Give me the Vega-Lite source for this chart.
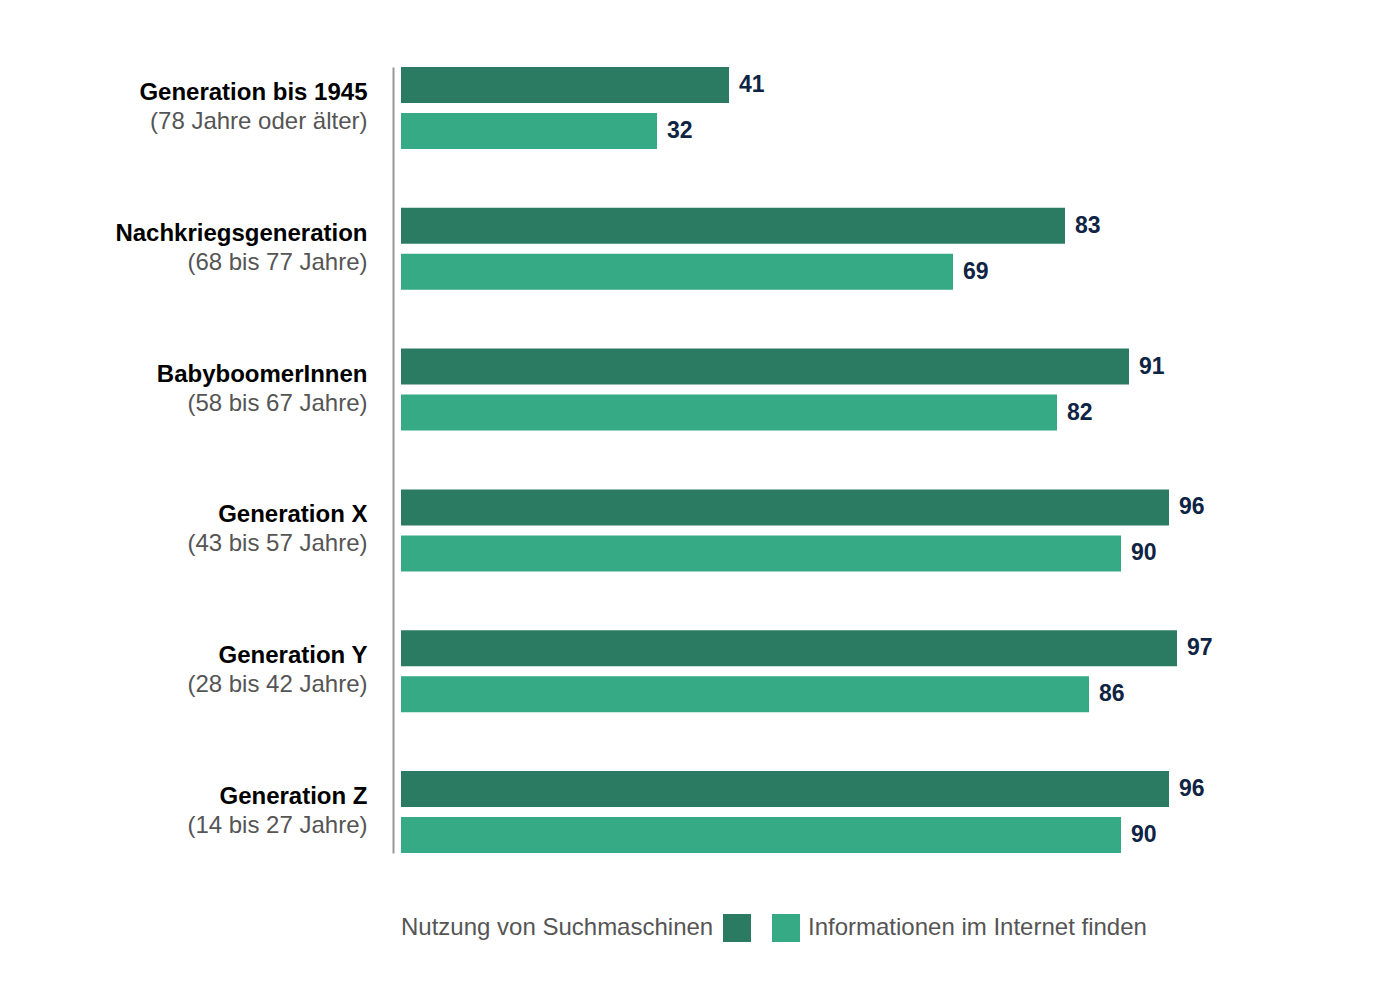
{
  "$schema": "https://vega.github.io/schema/vega-lite/v6.json",
  "width": 800,
  "height": 786,
  "autosize": {"type": "none"},
  "padding": {"left": 401, "top": 67, "right": 199, "bottom": 147},
  "background": "white",
  "config": {"font": "Liberation Sans", "view": {"stroke": null}},
  "data": {
    "values": [
      {"gen": "Generation bis 1945", "sub": "(78 Jahre oder älter)", "series": "Nutzung von Suchmaschinen", "value": 41},
      {"gen": "Generation bis 1945", "sub": "(78 Jahre oder älter)", "series": "Informationen im Internet finden", "value": 32},
      {"gen": "Nachkriegsgeneration", "sub": "(68 bis 77 Jahre)", "series": "Nutzung von Suchmaschinen", "value": 83},
      {"gen": "Nachkriegsgeneration", "sub": "(68 bis 77 Jahre)", "series": "Informationen im Internet finden", "value": 69},
      {"gen": "BabyboomerInnen", "sub": "(58 bis 67 Jahre)", "series": "Nutzung von Suchmaschinen", "value": 91},
      {"gen": "BabyboomerInnen", "sub": "(58 bis 67 Jahre)", "series": "Informationen im Internet finden", "value": 82},
      {"gen": "Generation X", "sub": "(43 bis 57 Jahre)", "series": "Nutzung von Suchmaschinen", "value": 96},
      {"gen": "Generation X", "sub": "(43 bis 57 Jahre)", "series": "Informationen im Internet finden", "value": 90},
      {"gen": "Generation Y", "sub": "(28 bis 42 Jahre)", "series": "Nutzung von Suchmaschinen", "value": 97},
      {"gen": "Generation Y", "sub": "(28 bis 42 Jahre)", "series": "Informationen im Internet finden", "value": 86},
      {"gen": "Generation Z", "sub": "(14 bis 27 Jahre)", "series": "Nutzung von Suchmaschinen", "value": 96},
      {"gen": "Generation Z", "sub": "(14 bis 27 Jahre)", "series": "Informationen im Internet finden", "value": 90}
    ]
  },
  "layer": [
    {
      "mark": {"type": "bar"},
      "encoding": {
        "y": {
          "field": "gen", "type": "nominal", "sort": null,
          "scale": {"type": "band", "paddingInner": 0.418, "paddingOuter": 0},
          "axis": {
            "title": null, "orient": "left", "offset": 8, "domainColor": "#999999", "domainWidth": 2,
            "ticks": false, "labelFontWeight": "bold", "labelFontSize": 24, "labelColor": "#000000",
            "labelPadding": 26, "labelOffset": -15, "labelLimit": 400
          }
        },
        "x": {"field": "value", "type": "quantitative", "scale": {"domain": [0, 100]}, "axis": null},
        "yOffset": {
          "field": "series", "type": "nominal",
          "sort": ["Nutzung von Suchmaschinen", "Informationen im Internet finden"],
          "scale": {"paddingInner": 0.2174, "paddingOuter": 0}
        },
        "color": {
          "field": "series", "type": "nominal",
          "scale": {"domain": ["Nutzung von Suchmaschinen", "Informationen im Internet finden"], "range": ["#2a7b62", "#35aa84"]},
          "legend": {
            "orient": "bottom", "direction": "horizontal", "offset": 61,
            "title": "Nutzung von Suchmaschinen", "titleOrient": "left", "titleFontWeight": "normal",
            "titleFontSize": 24, "titleColor": "#555555", "titlePadding": 9, "titleLimit": 500,
            "labelExpr": "datum.value == 'Nutzung von Suchmaschinen' ? '' : datum.label",
            "symbolType": "square", "symbolSize": 784, "symbolStrokeWidth": 0, "symbolOpacity": 1,
            "labelFontSize": 24, "labelColor": "#555555", "labelOffset": 8, "labelLimit": 500,
            "columnPadding": 13
          }
        }
      }
    },
    {
      "mark": {"type": "text", "align": "left", "baseline": "middle", "dx": 10, "fontWeight": "bold", "fontSize": 23, "color": "#0f2444"},
      "encoding": {
        "y": {"field": "gen", "type": "nominal", "sort": null, "scale": {"type": "band", "paddingInner": 0.418, "paddingOuter": 0}, "axis": null},
        "x": {"field": "value", "type": "quantitative", "scale": {"domain": [0, 100]}, "axis": null},
        "yOffset": {
          "field": "series", "type": "nominal",
          "sort": ["Nutzung von Suchmaschinen", "Informationen im Internet finden"],
          "scale": {"paddingInner": 0.2174, "paddingOuter": 0}
        },
        "text": {"field": "value", "type": "quantitative"}
      }
    },
    {
      "mark": {"type": "text", "opacity": 0},
      "encoding": {
        "y": {
          "field": "sub", "type": "nominal", "sort": null,
          "scale": {"type": "band", "paddingInner": 0.418, "paddingOuter": 0},
          "axis": {
            "title": null, "orient": "left", "offset": 8, "domain": false,
            "ticks": false, "labelFontWeight": "normal", "labelFontSize": 24, "labelColor": "#555555",
            "labelPadding": 26, "labelOffset": 14, "labelLimit": 400
          }
        },
        "text": {"value": ""}
      }
    }
  ],
  "resolve": {"scale": {"y": "independent"}}
}
